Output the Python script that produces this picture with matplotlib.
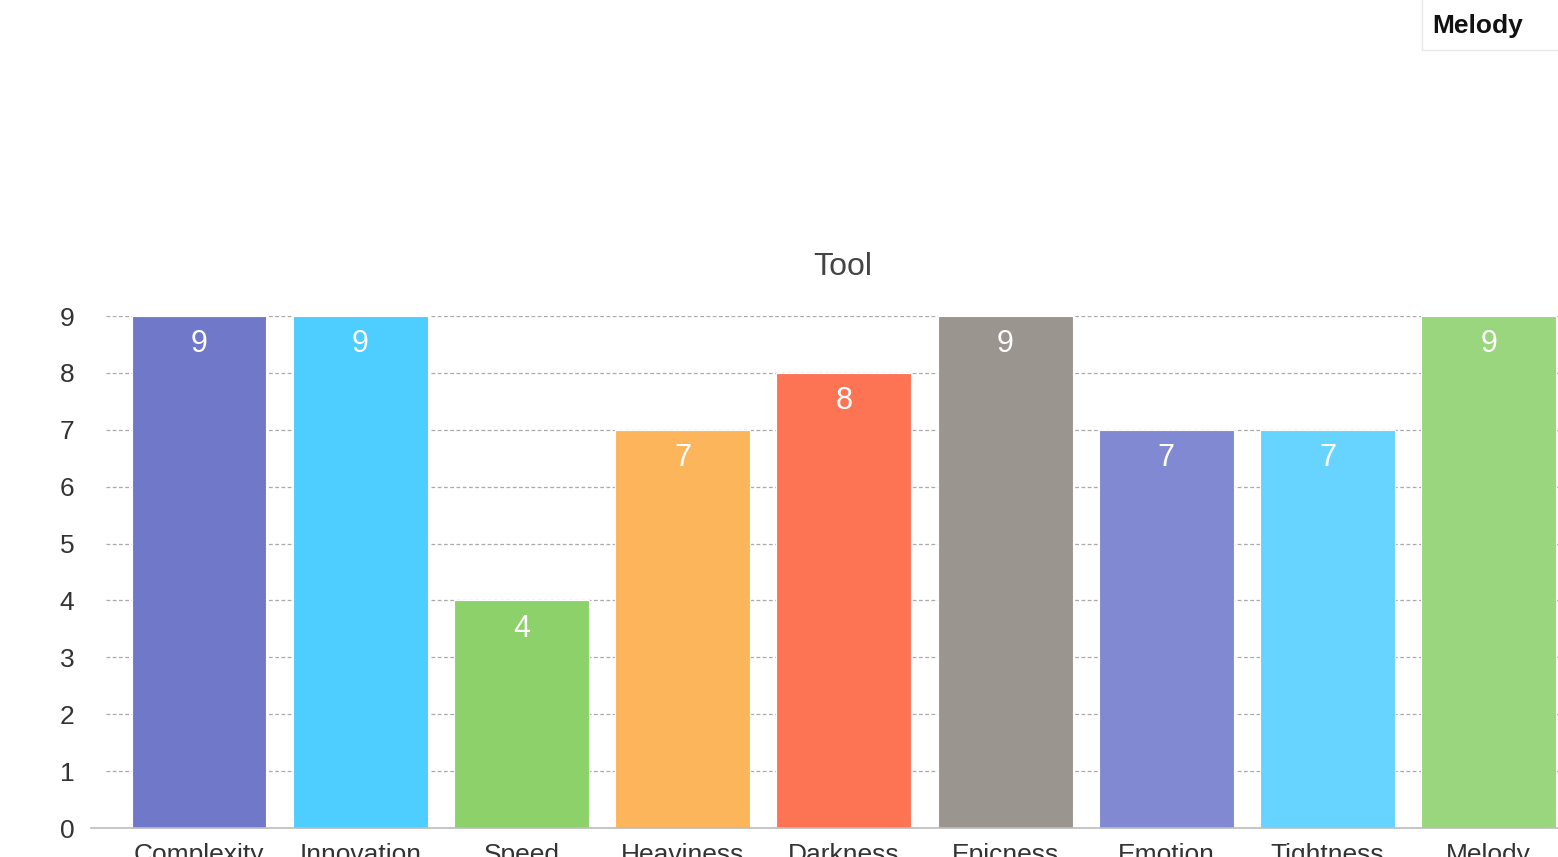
import matplotlib
matplotlib.use('Agg')
from matplotlib import pyplot as plt
from matplotlib.patches import Rectangle

plt.rcParams['font.family'] = ['Liberation Sans', 'DejaVu Sans']

# data
categories = ['Complexity', 'Innovation', 'Speed', 'Heaviness', 'Darkness',
              'Epicness', 'Emotion', 'Tightness', 'Melody']
scores = [9, 9, 4, 7, 8, 9, 7, 7, 9]
colors = ['#7079c9', '#4ecdff', '#8dd16a', '#fdb55c', '#fd7455',
          '#9b9590', '#8089d2', '#66d4ff', '#9ad67e']
y_ticks = list(range(0, 10))

W, H = 1558, 857
fig = plt.figure(figsize=(W / 100, H / 100), dpi=100)
ax = fig.add_axes([91 / W, (H - 828) / H, (W - 91) / W, (828 - 316) / H])

x = list(range(len(categories)))
ax.set_xlim(-0.670, 8.430)
ax.set_ylim(0, 9)

# dotted grid lines
ax.hlines(y_ticks[1:], -0.577, 8.430, colors='#aaaaaa', linestyles=(0, (3, 2)),
          linewidth=0.9, zorder=1)

bars = ax.bar(x, scores, width=0.837, color=colors, edgecolor='white',
              linewidth=0.8, zorder=2)

# value labels inside bars
for xi, v in zip(x, scores):
    ax.annotate(str(v), (xi, v), xytext=(0, -20.5), textcoords='offset points',
                ha='center', va='center', color='white', fontsize=22, zorder=3)

for s in ['top', 'left', 'right']:
    ax.spines[s].set_visible(False)
ax.spines['bottom'].set_color('#bbbbbb')
ax.spines['bottom'].set_linewidth(1.2)

ax.set_xticks(x)
ax.set_xticklabels(categories)
ax.set_yticks(y_ticks)
ax.tick_params(axis='x', length=0, pad=11, labelsize=19, labelcolor='#333333')
ax.tick_params(axis='y', length=0, pad=12, labelsize=19, labelcolor='#333333')

# title
fig.text(843 / W, 1 - 267 / H, 'Tool', ha='center', va='center',
         fontsize=23, fontweight='medium', color='#444444')

# legend box (cropped at the top right)
fig.patches.append(Rectangle((1422 / W, 1 - 50 / H), (W - 1422 + 5) / W, 55 / H,
                             transform=fig.transFigure, facecolor='white',
                             edgecolor='#e8e8e8', linewidth=1))
fig.text(1432 / W, 1 - 26 / H, 'Melody', ha='left', va='center',
         fontsize=19, fontweight='bold', color='#111111')

fig.savefig('out.png', dpi=100)
